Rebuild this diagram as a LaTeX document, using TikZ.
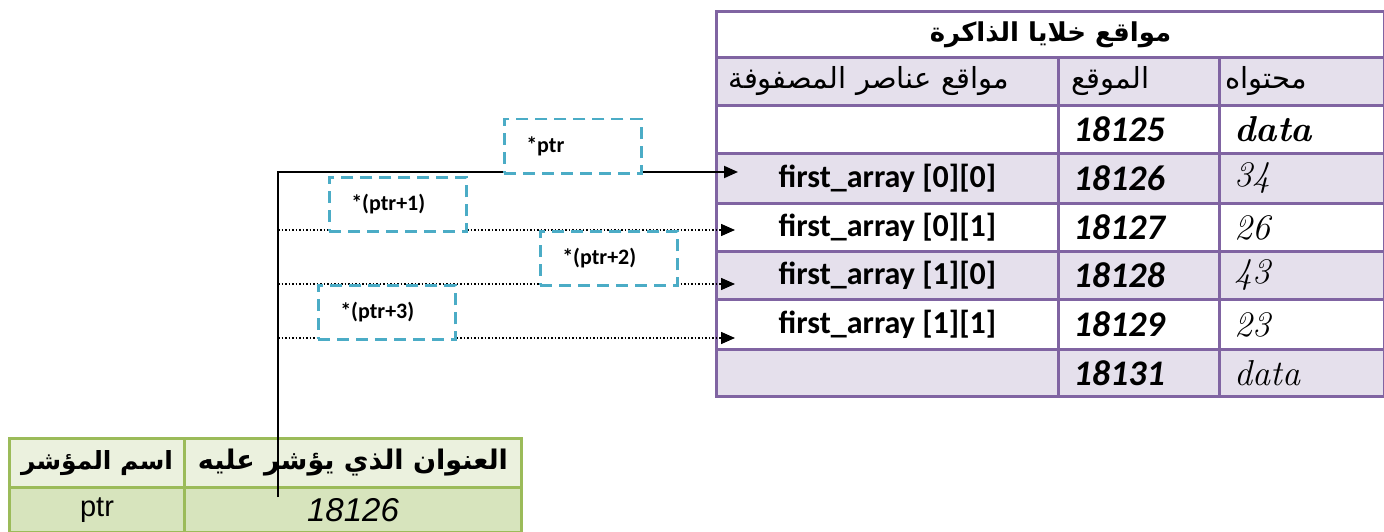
\documentclass[tikz,border=0pt]{standalone}
\usepackage{fontspec}
\usetikzlibrary{arrows.meta,positioning}
\TeXXeTstate=1
\newfontfamily\calfont{Carlito}
\newfontfamily\arfont[Script=Arabic]{DejaVu Sans}
\newfontfamily\arialfont{Liberation Sans}
\definecolor{cellpurple}{HTML}{8064A2}
\definecolor{cellviolet}{HTML}{E5E0EC}
\definecolor{ptrgreen}{HTML}{9BBB59}
\definecolor{ptrlight}{HTML}{EBF1DE}
\definecolor{ptrmid}{HTML}{D7E4BD}
\definecolor{boxblue}{HTML}{4BACC6}

\begin{document}
\begin{tikzpicture}[x=1pt, y=-1pt,
  cell/.style={draw=cellpurple, line width=3pt, anchor=north west, inner sep=0pt},
  lblcell/.style={cell, minimum width=342pt, font=\calfont\bfseries\fontsize{32}{36}\selectfont},
  addrcell/.style={cell, minimum width=161pt, inner xsep=15pt, text width=131pt, align=left, font=\calfont\bfseries\itshape\fontsize{36}{40}\selectfont},
  valcell/.style={cell, minimum width=165pt, inner xsep=15pt, text width=135pt, align=left, font=\itshape\fontsize{36}{40}\selectfont},
  arhead/.style={font=\arfont\fontsize{29}{33}\selectfont},
  pcell/.style={draw=ptrgreen, line width=3pt, anchor=north west, inner sep=0pt},
  derefbox/.style={draw=boxblue, line width=2.5pt, dash pattern=on 12pt off 7pt, fill=white, anchor=north west, minimum width=137pt, minimum height=54pt, inner xsep=22pt, text width=93pt, align=left, font=\calfont\bfseries\fontsize{22}{26}\selectfont},
  ptrline/.style={line width=2pt, -{Triangle[length=14pt,width=12pt]}},
  dotline/.style={line width=1.5pt, dash pattern=on 1.5pt off 2pt, -{Triangle[length=14pt,width=12pt]}},
]
  \useasboundingbox (0,0) rectangle (1384,532);

  % memory cells
  \node[cell, fill=white, minimum width=668pt, minimum height=46pt, font=\arfont\bfseries\fontsize{26}{30}\selectfont] (title) at (715,10) {\beginR مواقع خلايا الذاكرة\endR};
  \node[cell, fill=cellviolet, minimum width=342pt, minimum height=48pt, inner xsep=12pt, text width=318pt, align=left, arhead] (hloc) at (715,56) {\beginR مواقع عناصر المصفوفة\endR};
  \node[cell, fill=cellviolet, minimum width=161pt, minimum height=48pt, inner xsep=13pt, text width=135pt, align=left, arhead] (haddr) at (1057,56) {\beginR الموقع\endR};
  \node[cell, fill=cellviolet, minimum width=165pt, minimum height=48pt, inner xsep=6pt, text width=153pt, align=left, arhead] (hval) at (1218,56) {\beginR محتواه\endR};

  \foreach \n/\ry/\rh/\tone/\clbl/\caddr/\cval in {
    1/104/48/white/{}/18125/{\bfseries data},
    2/152/50/cellviolet/{first\_array [0][0]}/18126/34,
    3/202/48/white/{first\_array [0][1]}/18127/26,
    4/250/48/cellviolet/{first\_array [1][0]}/18128/43,
    5/298/50/white/{first\_array [1][1]}/18129/23,
    6/348/47/cellviolet/{}/18131/data}
  {
    \node[lblcell, fill=\tone, minimum height=\rh pt] (lbl\n) at (715,\ry) {\clbl};
    \node[addrcell, fill=\tone, minimum height=\rh pt] (addr\n) at (1057,\ry) {\caddr};
    \node[valcell, fill=\tone, minimum height=\rh pt] (val\n) at (1218,\ry) {\cval};
  }

  % pointer table
  \node[pcell, fill=ptrlight, minimum width=175pt, minimum height=49pt, font=\arfont\bfseries\fontsize{25}{29}\selectfont] (pname) at (8,437) {\beginR اسم المؤشر\endR};
  \node[pcell, fill=ptrlight, minimum width=337pt, minimum height=49pt, font=\arfont\bfseries\fontsize{27}{31}\selectfont] (paddr) at (183,437) {\beginR العنوان الذي يؤشر عليه\endR};
  \node[pcell, fill=ptrmid, minimum width=175pt, minimum height=45pt, font=\arialfont\fontsize{29}{33}\selectfont] (pvar) at (8,486) {ptr};
  \node[pcell, fill=ptrmid, minimum width=337pt, minimum height=45pt, font=\arialfont\itshape\fontsize{33}{37}\selectfont] (pval) at (183,486) {18126};

  % pointer arrows
  \coordinate (ptrorg) at (278,497);
  \coordinate (tip0) at (738,172);
  \coordinate (tip1) at (735,230);
  \coordinate (tip2) at (735,284);
  \coordinate (tip3) at (735,338);
  \draw[ptrline] (ptrorg) |- (tip0);
  \foreach \k in {1,2,3}
    \draw[dotline] (ptrorg |- tip\k) -- (tip\k);

  % dereference labels
  \node[derefbox] (deref0) at (503,118) {*ptr};
  \node[derefbox] (deref1) at (328,176) {*(ptr+1)};
  \node[derefbox] (deref2) at (539,230) {*(ptr+2)};
  \node[derefbox] (deref3) at (317,284) {*(ptr+3)};
\end{tikzpicture}
\end{document}
